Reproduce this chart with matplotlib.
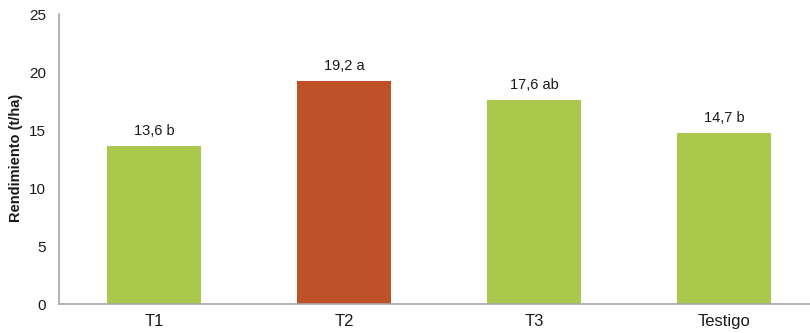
import matplotlib
matplotlib.use("Agg")
import matplotlib.pyplot as plt

categories = ["T1", "T2", "T3", "Testigo"]
rendimiento = [13.6, 19.2, 17.6, 14.7]
letras = ["b", "a", "ab", "b"]
colores = ["#A9C84C", "#BE5128", "#A9C84C", "#A9C84C"]
y_ticks = [0, 5, 10, 15, 20, 25]

plt.rcParams["font.family"] = ["Liberation Sans", "DejaVu Sans"]

W, H = 810, 333
fig = plt.figure(figsize=(W / 100, H / 100), dpi=100)
ax = fig.add_axes([59 / W, 29 / H, 751 / W, 290 / H])

x = list(range(len(categories)))
ax.bar(x, rendimiento, width=0.495, color=colores, zorder=2)

for xi, v, l in zip(x, rendimiento, letras):
    etiqueta = f"{v:.1f}".replace(".", ",") + " " + l
    ax.annotate(etiqueta, (xi, v), xytext=(0, 6), textcoords="offset points",
                ha="center", va="bottom", fontsize=10.5, color="#1a1a1a")

ax.set_xlim(-0.5, 3.453)
ax.set_ylim(0, 25)
ax.set_yticks(y_ticks)
ax.set_yticklabels([str(t) for t in y_ticks], fontsize=11, color="#1a1a1a")
ax.set_xticks(x)
ax.set_xticklabels(categories, fontsize=12, color="#1a1a1a")
ax.tick_params(axis="both", length=0)
ax.tick_params(axis="y", pad=9.5)
ax.tick_params(axis="x", pad=7.5)

for s in ["top", "right"]:
    ax.spines[s].set_visible(False)
for s in ["left", "bottom"]:
    ax.spines[s].set_color("#A6A6A6")
    ax.spines[s].set_linewidth(1.2)

fig.text(16 / W, 1 - 158 / H, "Rendimiento (t/ha)", rotation=90, ha="center", va="center",
         fontsize=10.5, fontweight="bold", color="#1a1a1a")

fig.savefig("out.png", dpi=100)
